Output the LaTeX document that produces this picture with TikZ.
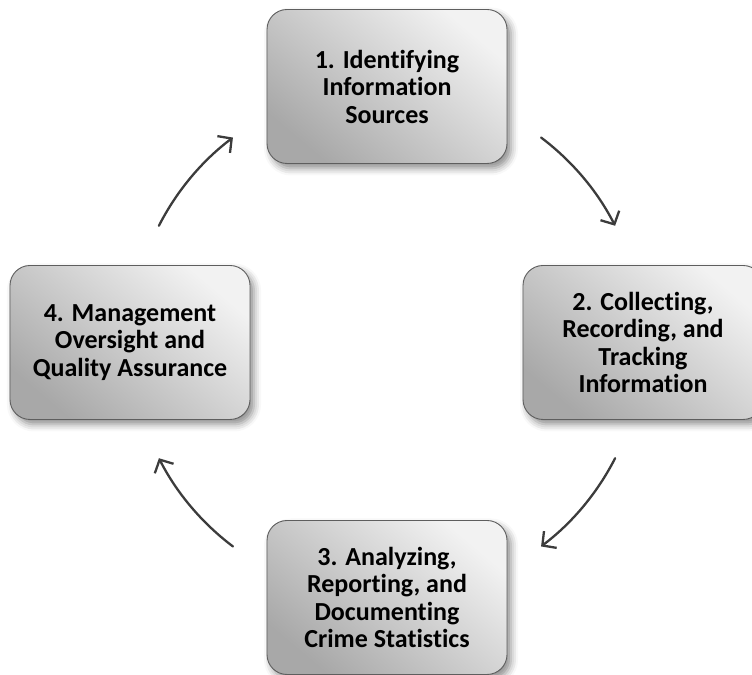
\documentclass[tikz,border=0pt]{standalone}
\usepackage{fontspec}
\setmainfont{Carlito}[Ligatures={NoCommon}]
\usetikzlibrary{calc,arrows.meta,shadows.blur}

\definecolor{stepline}{HTML}{5E5E5E}
\definecolor{cycarrow}{HTML}{3C3C3C}

\tikzset{
  stepbox/.style={rectangle, rounded corners=20bp, draw=stepline, line width=0.9bp,
    minimum width=240bp, minimum height=154bp, align=center, text=black,
    font=\fontsize{26bp}{27.5bp}\selectfont\bfseries,
    top color=gray!10, bottom color=gray!68, shading angle=-40,
    blur shadow={shadow xshift=4bp, shadow yshift=-5bp, shadow blur radius=7bp, shadow opacity=45}},
  cycle/.style={draw=cycarrow, line width=2.3bp, line cap=round,
    -{Straight Barb[length=10bp,width=21bp,line width=2.3bp]}}
}

\begin{document}
\begin{tikzpicture}[x=1bp,y=1bp]
\useasboundingbox (0,0) rectangle (752,675);

% the four steps
\node[stepbox] (ident) at (387,588.5) {1. Identifying\\Information\\Sources};
\node[stepbox] (collect) at (643,332.5) {2. Collecting,\\Recording, and\\Tracking\\Information};
\node[stepbox] (analyze) at (387,77.5) {3. Analyzing,\\Reporting, and\\Documenting\\Crime Statistics};
\node[stepbox] (manage) at (130,332.5) {4. Management\\Oversight and\\Quality Assurance};

% arrows round the cycle
\coordinate (hub) at ($(ident)!.5!(analyze)$);
\foreach \a in {53,333,233,153}
  \draw[cycle] ([shift={(\a:256bp)}]hub) arc[start angle=\a, delta angle=-26, radius=256bp];

\end{tikzpicture}
\end{document}
